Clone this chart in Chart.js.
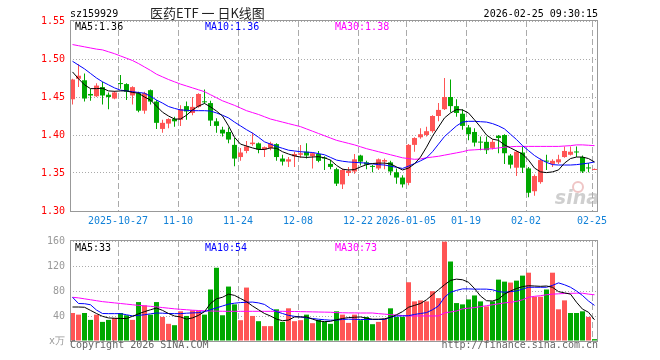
<!DOCTYPE html>
<html>
<head>
<meta charset="utf-8">
<title>医药ETF 日K线图</title>
<script src="https://cdn.jsdelivr.net/npm/chart.js@4/dist/chart.umd.min.js"></script>
<style>
  html, body { margin: 0; padding: 0; background: #fff; }
  #wrap { position: relative; width: 660px; height: 360px; }
  #kline { position: absolute; left: 0; top: 0; }
  #volume { position: absolute; left: 0; top: 230px; }
</style>
</head>
<body>
<div id="wrap">
  <canvas id="kline" width="660" height="230"></canvas>
  <canvas id="volume" width="660" height="130"></canvas>
</div>
<script>
const opens = [
  1.447, 1.474, 1.472, 1.454, 1.451, 1.463, 1.453, 1.448, 1.468, 1.467,
  1.452, 1.455, 1.432, 1.459, 1.444, 1.408, 1.415, 1.421, 1.420, 1.438,
  1.429, 1.437, 1.444, 1.442, 1.418, 1.407, 1.404, 1.387, 1.371, 1.379,
  1.388, 1.389, 1.381, 1.383, 1.388, 1.369, 1.365, 1.372, 1.374, 1.378,
  1.372, 1.375, 1.370, 1.362, 1.355, 1.335, 1.350, 1.352, 1.373, 1.364,
  1.359, 1.356, 1.365, 1.364, 1.351, 1.344, 1.337, 1.387, 1.397, 1.400,
  1.405, 1.425, 1.434, 1.450, 1.438, 1.428, 1.410, 1.404, 1.391, 1.391,
  1.383, 1.399, 1.400, 1.373, 1.357, 1.377, 1.356, 1.326, 1.338, 1.366,
  1.362, 1.364, 1.371, 1.374, 1.378, 1.371, 1.357, 1.354
];
const highs = [
  1.474, 1.493, 1.481, 1.461, 1.468, 1.470, 1.456, 1.458, 1.479, 1.468,
  1.464, 1.457, 1.457, 1.460, 1.446, 1.420, 1.422, 1.424, 1.439, 1.444,
  1.450, 1.455, 1.460, 1.445, 1.422, 1.411, 1.410, 1.396, 1.383, 1.392,
  1.403, 1.390, 1.385, 1.391, 1.389, 1.374, 1.371, 1.378, 1.387, 1.389,
  1.377, 1.379, 1.372, 1.367, 1.357, 1.356, 1.358, 1.375, 1.374, 1.366,
  1.361, 1.369, 1.369, 1.366, 1.356, 1.347, 1.388, 1.397, 1.409, 1.411,
  1.426, 1.442, 1.475, 1.473, 1.447, 1.434, 1.413, 1.409, 1.398, 1.398,
  1.394, 1.400, 1.401, 1.375, 1.380, 1.385, 1.358, 1.348, 1.369, 1.374,
  1.368, 1.374, 1.385, 1.385, 1.385, 1.373, 1.363, 1.356
];
const lows = [
  1.440, 1.463, 1.444, 1.445, 1.450, 1.440, 1.434, 1.447, 1.461, 1.446,
  1.440, 1.430, 1.428, 1.440, 1.408, 1.403, 1.409, 1.411, 1.412, 1.420,
  1.426, 1.436, 1.441, 1.412, 1.403, 1.398, 1.389, 1.359, 1.366, 1.376,
  1.386, 1.376, 1.371, 1.380, 1.366, 1.360, 1.358, 1.358, 1.370, 1.369,
  1.356, 1.364, 1.354, 1.355, 1.333, 1.329, 1.346, 1.349, 1.360, 1.355,
  1.351, 1.354, 1.355, 1.347, 1.336, 1.331, 1.334, 1.378, 1.395, 1.398,
  1.403, 1.418, 1.433, 1.430, 1.424, 1.407, 1.393, 1.385, 1.380, 1.375,
  1.381, 1.376, 1.362, 1.356, 1.346, 1.350, 1.318, 1.320, 1.336, 1.354,
  1.358, 1.362, 1.370, 1.373, 1.371, 1.350, 1.351, 1.354
];
const closes = [
  1.473, 1.478, 1.448, 1.452, 1.465, 1.452, 1.450, 1.456, 1.467, 1.457,
  1.463, 1.432, 1.455, 1.444, 1.416, 1.416, 1.421, 1.418, 1.434, 1.431,
  1.437, 1.454, 1.443, 1.419, 1.412, 1.402, 1.394, 1.369, 1.377, 1.385,
  1.390, 1.381, 1.384, 1.389, 1.371, 1.365, 1.368, 1.375, 1.376, 1.373,
  1.376, 1.366, 1.369, 1.358, 1.336, 1.354, 1.353, 1.368, 1.365, 1.361,
  1.358, 1.368, 1.367, 1.352, 1.344, 1.335, 1.387, 1.396, 1.401, 1.405,
  1.425, 1.433, 1.450, 1.438, 1.429, 1.412, 1.401, 1.390, 1.390, 1.380,
  1.391, 1.396, 1.376, 1.361, 1.378, 1.357, 1.324, 1.346, 1.367, 1.365,
  1.366, 1.368, 1.379, 1.378, 1.377, 1.352, 1.356, 1.355
];

const ma5 = [
  1.483, 1.474, 1.466, 1.461, 1.461, 1.4615, 1.458, 1.4575, 1.458, 1.458,
  1.456, 1.455, 1.450, 1.446, 1.438, 1.430, 1.425, 1.421, 1.421, 1.426,
  1.433, 1.438, 1.4415, 1.437, 1.4315, 1.425, 1.412, 1.397, 1.388, 1.3855,
  1.383, 1.381, 1.381, 1.383, 1.3825, 1.378, 1.375, 1.3725, 1.371, 1.3705,
  1.371, 1.3715, 1.370, 1.367, 1.360, 1.355, 1.354, 1.3545, 1.358, 1.361,
  1.3625, 1.363, 1.363, 1.362, 1.358, 1.354, 1.3565, 1.362, 1.371, 1.384,
  1.3985, 1.4105, 1.4225, 1.429, 1.4335, 1.433, 1.429, 1.420, 1.4105, 1.400,
  1.3945, 1.393, 1.387, 1.383, 1.379, 1.375, 1.367, 1.3565, 1.3515, 1.3505,
  1.3515, 1.354, 1.363, 1.369, 1.371, 1.371, 1.369, 1.3645
];
const ma10 = [
  1.497, 1.492, 1.487, 1.481, 1.475, 1.470, 1.466, 1.462, 1.459, 1.458,
  1.457, 1.456, 1.455, 1.451, 1.446, 1.442, 1.4375, 1.435, 1.433, 1.4325,
  1.432, 1.432, 1.432, 1.4315, 1.429, 1.426, 1.4225, 1.417, 1.412, 1.407,
  1.4025, 1.397, 1.391, 1.388, 1.385, 1.3825, 1.380, 1.379, 1.378, 1.3775,
  1.377, 1.3755, 1.374, 1.3705, 1.367, 1.3655, 1.3645, 1.364, 1.3635, 1.363,
  1.362, 1.361, 1.3605, 1.359, 1.3575, 1.356, 1.359, 1.3625, 1.366, 1.370,
  1.378, 1.388, 1.398, 1.405, 1.412, 1.417, 1.418, 1.418, 1.4175, 1.417,
  1.415, 1.412, 1.408, 1.401, 1.394, 1.386, 1.3795, 1.373, 1.368, 1.364,
  1.361, 1.3605, 1.3605, 1.3605, 1.361, 1.362, 1.363, 1.3645
];
const ma30 = [
  1.519, 1.5175, 1.516, 1.5145, 1.513, 1.512, 1.5095, 1.507, 1.504, 1.501,
  1.498, 1.494, 1.4895, 1.485, 1.480, 1.4765, 1.473, 1.470, 1.467, 1.4645,
  1.462, 1.4595, 1.457, 1.453, 1.449, 1.445, 1.442, 1.439, 1.4355, 1.432,
  1.4295, 1.427, 1.424, 1.421, 1.419, 1.417, 1.415, 1.413, 1.411, 1.408,
  1.405, 1.402, 1.399, 1.396, 1.393, 1.391, 1.389, 1.387, 1.3845, 1.382,
  1.380, 1.378, 1.376, 1.374, 1.372, 1.370, 1.369, 1.368, 1.3685, 1.370,
  1.371, 1.372, 1.3735, 1.375, 1.3765, 1.378, 1.380, 1.3805, 1.381, 1.3815,
  1.382, 1.383, 1.384, 1.3845, 1.385, 1.385, 1.385, 1.385, 1.385, 1.385,
  1.385, 1.385, 1.3855, 1.386, 1.387, 1.387, 1.3865, 1.386
];

const volumes = [
  44.8, 42.2, 44.8, 33.8, 42.2, 30.6, 33.8, 36.9, 44.8, 41.2,
  33.8, 62.3, 57.0, 42.2, 62.3, 38.5, 27.5, 25.3, 47.5, 40.1,
  49.1, 48.6, 42.2, 82.4, 117.2, 41.2, 87.1, 58.6, 33.3, 85.5,
  40.1, 31.7, 23.8, 23.8, 50.7, 30.6, 52.3, 31.7, 33.3, 42.2,
  28.5, 33.8, 30.6, 27.5, 47.5, 42.2, 29.0, 42.2, 33.3, 38.5,
  26.9, 30.6, 35.9, 52.3, 38.5, 38.5, 94.0, 63.4, 65.0, 63.4,
  79.7, 68.6, 158.9, 127.2, 60.7, 58.6, 66.5, 72.9, 63.4, 55.4,
  63.4, 98.2, 95.0, 93.5, 96.6, 104.6, 109.3, 70.8, 70.8, 82.4,
  109.3, 50.7, 65.0, 44.8, 44.8, 47.5, 38.5, 3.0
];
const volUp = 'RRGGRGGRGGRGRGGRRGRGRRGGGGGGRRRGRRGGRRRGRGGGGRRRGGGRRGGGRRRRRRRGGGGGGRGGGRGGRRRGRRRGGGR';
const volMa5 = [
  54.4, 54.4, 54, 49, 44, 39.5, 36.9, 36.4, 36, 35.9,
  39.5, 43.5, 47, 50, 52.8, 49, 44, 40, 38.5, 35,
  37, 41, 47, 60, 67.5, 70, 75, 73, 68, 63,
  56, 50, 44, 40, 35, 32.5, 33.5, 38.5, 38.5, 38.5,
  35, 32, 31, 31.5, 34, 36, 37.5, 38, 38.5, 36.5,
  34.9, 34.9, 35.5, 38, 42, 47, 54, 57, 60, 66,
  74, 82, 90, 97, 99, 98, 94, 84, 72, 64.5,
  64, 67, 75, 80, 84, 87, 88.5, 88, 87.5, 88,
  86, 79, 77, 75, 62, 51, 46, 34
];
const volMa10 = [
  70, 60, 59.7, 58, 49.5, 44, 43.8, 43.8, 43.8, 42,
  40.2, 41, 42, 43.5, 44.8, 44.5, 44, 43.8, 43.8, 44.5,
  45, 45.4, 47, 50, 53, 56, 59, 60.5, 61.5, 62,
  62.3, 61, 58.5, 52, 47, 44, 41, 39.5, 38.5, 37,
  36, 34.9, 34, 33.3, 33.5, 34.5, 34.9, 34.7, 34.4, 34.4,
  34.4, 34.4, 34.4, 38, 40.1, 40.1, 40.5, 42.5, 44, 45.4,
  50, 56, 70, 78, 81, 83.4, 83.4, 83, 83, 83,
  82, 79, 78, 79, 80, 83, 86, 86, 86, 86,
  89, 93, 90, 86, 80, 72.8, 64, 57
];
const volMa30 = [
  70, 69, 67.5, 66, 64.5, 63, 62, 61, 60, 59,
  58, 57, 56.3, 55.5, 54.5, 53.5, 52.5, 51.5, 50.7, 50,
  49.3, 48.8, 48.3, 48, 47.8, 47.6, 47.5, 47.5, 47.5, 47.5,
  47.5, 47.5, 47.5, 47.5, 47.5, 47.5, 47.3, 47.2, 47, 46.8,
  46.6, 46.4, 46.2, 46, 45.4, 45.2, 45, 45, 44.8, 44.8,
  44.8, 43.8, 43, 42.2, 41.5, 40.8, 40.1, 40.1, 40.1, 40.1,
  40.1, 40.1, 45, 46.5, 48, 51.5, 52.5, 53.5, 55, 56.5,
  58, 59.5, 61, 62, 63.4, 66, 70, 71.5, 72.5, 74,
  75, 75.5, 76, 76.3, 76.5, 76.5, 75, 74
];

const tickIndex = [8, 18, 28, 38, 48, 56, 66, 76, 87];
const tickLabels = ['2025-10-27', '11-10', '11-24', '12-08', '12-22', '2026-01-05', '01-19', '02-02', '02-25'];
const priceTicks = [1.30, 1.35, 1.40, 1.45, 1.50, 1.55];
const volTicks = [0, 40, 80, 120, 160];
const volTickLabels = ['x万', '40', '80', '120', '160'];

const priceMaText = ['MA5:1.36', 'MA10:1.36', 'MA30:1.38'];
const volMaText = ['MA5:33', 'MA10:54', 'MA30:73'];

const UP = '#ff5555';
const DOWN = '#00a800';
const MA_COLORS = ['#000000', '#0000ff', '#ff00ff'];
const MONO = '"DejaVu Sans Mono", "Liberation Mono", monospace';
const SHIFT = 1 / 12;
const N = closes.length;

const candleColors = closes.map((c, i) => c >= opens[i] ? UP : DOWN);
const volColors = volumes.map((v, i) => volUp[i] === 'R' ? UP : DOWN);

function xAxis(showLabels) {
  return {
    type: 'linear',
    bounds: 'data',
    min: -0.5 + SHIFT,
    max: N - 0.5 + SHIFT,
    offset: false,
    afterBuildTicks: s => { s.ticks = tickIndex.map(i => ({ value: i - 0.5 + SHIFT })); },
    afterFit: s => { s.height = 19; s.paddingLeft = 0; s.paddingRight = 0; },
    grid: { color: '#aaaaaa', lineWidth: 1, drawTicks: false, offset: false },
    border: { display: false, dash: [6, 3] },
    ticks: {
      display: showLabels,
      autoSkip: false,
      maxRotation: 0,
      padding: 4,
      color: '#1382d8',
      font: { family: MONO, size: 10 },
      callback: v => tickLabels[tickIndex.indexOf(Math.round(v + 0.5 - SHIFT))]
    }
  };
}

function lineSet(values, color) {
  return {
    type: 'line',
    data: values.map((v, i) => ({ x: i, y: v })),
    borderColor: color,
    borderWidth: 1,
    pointRadius: 0,
    tension: 0,
    fill: false,
    order: 0
  };
}

function drawFrame(chart) {
  const { ctx, chartArea: a } = chart;
  ctx.save();
  ctx.strokeStyle = '#999999';
  ctx.lineWidth = 1;
  ctx.strokeRect(a.left + 0.5, a.top - 0.5, a.right - a.left - 1, a.bottom - a.top + 1);
  ctx.restore();
}

function drawMaText(ctx, texts, y) {
  const xs = [75, 205, 335];
  ctx.font = '10px ' + MONO;
  ctx.textAlign = 'left';
  ctx.textBaseline = 'alphabetic';
  texts.forEach((t, i) => {
    ctx.fillStyle = MA_COLORS[i];
    ctx.fillText(t, xs[i], y);
  });
}

const klineText = {
  id: 'klineText',
  afterDatasetsDraw(chart) {
    drawFrame(chart);
    const ctx = chart.ctx;
    ctx.save();
    drawMaText(ctx, priceMaText, 30);
    ctx.font = '10px ' + MONO;
    ctx.fillStyle = '#000';
    ctx.textAlign = 'left';
    ctx.fillText('sz159929', 70, 17);
    ctx.textAlign = 'right';
    ctx.fillText('2026-02-25 09:30:15', 598, 17);
    ctx.textAlign = 'left';
    ctx.fillStyle = '#222';
    ctx.font = '13px "Noto Sans CJK SC", sans-serif';
    ctx.fillText('医药ETF 一 日K线图', 150, 18);

    ctx.strokeStyle = 'rgba(225,150,150,0.55)';
    ctx.lineWidth = 2;
    ctx.beginPath();
    ctx.arc(578, 187, 5, 0, Math.PI * 2);
    ctx.stroke();
    ctx.fillStyle = 'rgba(175,175,175,0.6)';
    ctx.font = 'italic bold 19px "DejaVu Sans", sans-serif';
    ctx.textAlign = 'right';
    ctx.fillText('sina', 599, 204);
    ctx.restore();
  }
};

const volumeText = {
  id: 'volumeText',
  afterDatasetsDraw(chart) {
    drawFrame(chart);
    const ctx = chart.ctx;
    ctx.save();
    drawMaText(ctx, volMaText, 21);
    ctx.font = '10px ' + MONO;
    ctx.fillStyle = '#666';
    ctx.textAlign = 'left';
    ctx.fillText('Copyright 2026 SINA.COM', 70, 118);
    ctx.textAlign = 'right';
    ctx.fillText('http://finance.sina.com.cn', 598, 118);
    ctx.restore();
  }
};

Chart.defaults.animation = false;
Chart.defaults.responsive = false;
Chart.defaults.plugins.legend.display = false;
Chart.defaults.plugins.tooltip.enabled = false;

new Chart(document.getElementById('kline'), {
  type: 'bar',
  data: {
    datasets: [
      lineSet(ma5, MA_COLORS[0]),
      lineSet(ma10, MA_COLORS[1]),
      lineSet(ma30, MA_COLORS[2]),
      {
        data: opens.map((o, i) => ({ x: i, y: [Math.min(o, closes[i]), Math.max(o, closes[i])] })),
        backgroundColor: candleColors,
        barThickness: 5,
        minBarLength: 1,
        borderWidth: 0,
        inflateAmount: 0,
        grouped: false,
        order: 1
      },
      {
        data: lows.map((l, i) => ({ x: i, y: [l, highs[i]] })),
        backgroundColor: candleColors,
        barThickness: 1,
        borderWidth: 0,
        inflateAmount: 0,
        grouped: false,
        order: 2
      }
    ]
  },
  options: {
    layout: { padding: { left: 0, right: 62, top: 21, bottom: 0 } },
    scales: {
      x: xAxis(true),
      y: {
        type: 'linear',
        min: 1.30,
        max: 1.55,
        afterBuildTicks: s => { s.ticks = priceTicks.map(v => ({ value: v })); },
        afterFit: s => { s.width = 70; },
        grid: { color: '#aaaaaa', lineWidth: 1, drawTicks: false },
        border: { display: false, dash: [1, 2] },
        ticks: { padding: 5, color: '#ff0000', font: { family: MONO, size: 10 }, callback: v => v.toFixed(2) }
      }
    }
  },
  plugins: [klineText]
});

new Chart(document.getElementById('volume'), {
  type: 'bar',
  data: {
    datasets: [
      lineSet(volMa5, MA_COLORS[0]),
      lineSet(volMa10, MA_COLORS[1]),
      lineSet(volMa30, MA_COLORS[2]),
      {
        data: volumes.map((v, i) => ({ x: i, y: v })),
        backgroundColor: volColors,
        barThickness: 5,
        borderWidth: 0,
        inflateAmount: 0,
        grouped: false,
        order: 1
      }
    ]
  },
  options: {
    layout: { padding: { left: 0, right: 62, top: 11, bottom: 0 } },
    scales: {
      x: xAxis(false),
      y: {
        type: 'linear',
        min: 0,
        max: 160,
        afterBuildTicks: s => { s.ticks = volTicks.map(v => ({ value: v })); },
        afterFit: s => { s.width = 70; },
        grid: { color: '#aaaaaa', lineWidth: 1, drawTicks: false },
        border: { display: false, dash: [1, 2] },
        ticks: {
          padding: 5,
          color: '#999999',
          font: { family: MONO, size: 10 },
          callback: v => volTickLabels[volTicks.indexOf(v)]
        }
      }
    }
  },
  plugins: [volumeText]
});
</script>
</body>
</html>
